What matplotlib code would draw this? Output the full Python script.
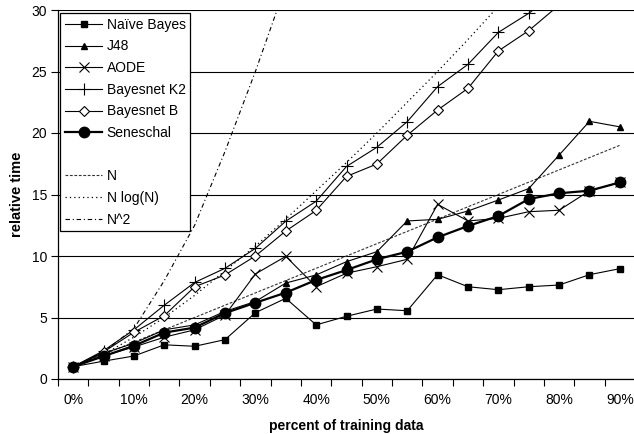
import matplotlib
matplotlib.use("Agg")
import matplotlib.pyplot as plt
from matplotlib.lines import Line2D

plt.rcParams['font.family'] = ['Liberation Sans', 'DejaVu Sans']

categories = ['0%', '5%', '10%', '15%', '20%', '25%', '30%', '35%', '40%', '45%',
              '50%', '55%', '60%', '65%', '70%', '75%', '80%', '85%', '90%']

naive_bayes = [1.0, 1.45, 1.87, 2.78, 2.66, 3.2, 5.39, 6.56, 4.4, 5.1,
               5.69, 5.55, 8.48, 7.5, 7.26, 7.5, 7.64, 8.48, 8.97]
j48 = [1.0, 2.1, 2.9, 4.0, 4.4, 5.5, 6.3, 7.8, 8.46, 9.54,
       10.35, 12.85, 12.98, 13.66, 14.55, 15.48, 18.2, 20.95, 20.5]
aode = [1.0, 1.9, 2.6, 3.4, 4.0, 5.2, 8.54, 9.97, 7.5, 8.6,
        9.13, 9.73, 14.2, 12.85, 13.06, 13.6, 13.72, 15.3, 16.0]
bayesnet_k2 = [1.0, 2.3, 4.0, 6.0, 7.85, 9.0, 10.62, 12.83, 14.45, 17.28,
               18.84, 20.92, 23.77, 25.58, 28.18, 29.73, 31.6, 33.5, 35.5]
bayesnet_b = [1.0, 2.2, 3.8, 5.15, 7.5, 8.46, 10.0, 12.03, 13.7, 16.47,
              17.48, 19.82, 21.87, 23.63, 26.67, 28.32, 30.4, 32.5, 34.5]
seneschal = [1.0, 1.85, 2.7, 3.77, 4.18, 5.36, 6.2, 7.02, 8.05, 8.86,
             9.73, 10.35, 11.52, 12.44, 13.25, 14.63, 15.1, 15.31, 15.98]

ref_n = [1, 2, 3, 4, 5, 6, 7, 8, 9, 10, 11, 12, 13, 14, 15, 16, 17, 18, 19]
ref_nlogn = [1.0, 2.0, 3.4, 5.0, 6.8, 8.8, 10.8, 13.0, 15.3, 17.6,
             20.0, 22.5, 25.0, 27.6, 30.3, 33.0, 35.7, 38.5, 41.3]
ref_n2 = [1.0, 2.2, 4.1, 8.0, 12.5, 18.5, 25.0, 32.0, 40.5]

yticks = [0, 5, 10, 15, 20, 25, 30]

fig = plt.figure(figsize=(6.34, 4.34), dpi=100)
ax = fig.add_axes([58 / 634, 1 - 379 / 434, 577 / 634, 369 / 434])

x = list(range(len(categories)))

ax.plot(x[:len(naive_bayes)], naive_bayes, color='black', lw=0.8, marker='s', ms=4.5,
        label='Naïve Bayes', zorder=3)
ax.plot(x, j48, color='black', lw=0.8, marker='^', ms=5, label='J48', zorder=3)
ax.plot(x, aode, color='black', lw=0.8, marker='x', ms=7, mew=0.8, label='AODE', zorder=3)
ax.plot(x, bayesnet_k2, color='black', lw=0.8, marker='+', ms=8, mew=0.8,
        label='Bayesnet K2', zorder=3)
ax.plot(x, bayesnet_b, color='black', lw=0.8, marker='D', ms=5, mfc='white', mew=0.8,
        label='Bayesnet B', zorder=3)
ax.plot(x, seneschal, color='black', lw=1.6, marker='o', ms=7.5, label='Seneschal', zorder=4)
blank = Line2D([], [], color='none', label=' ')
ax.plot(x[:len(ref_n)], ref_n, color='#333333', lw=0.8, ls=(0, (2.5, 1.5)), label='N', zorder=2)
ax.plot(x[:len(ref_nlogn)], ref_nlogn, color='black', lw=0.9, ls=(0, (1, 2.5)),
        label='N log(N)', zorder=2)
ax.plot(x[:len(ref_n2)], ref_n2, color='black', lw=0.8, ls=(0, (4, 2.5, 1, 2.5)),
        label='N^2', zorder=2)

ax.set_xlim(-0.5, len(categories) - 0.5)
ax.set_ylim(0, 30)
ax.set_yticks(yticks)
ax.set_yticklabels([str(v) for v in yticks], fontsize=10)
ax.yaxis.grid(True, color='black', lw=0.8)
ax.set_axisbelow(True)

ax.set_xticks(x)
ax.set_xticklabels([c if i % 2 == 0 else '' for i, c in enumerate(categories)], fontsize=10)
ax.tick_params(axis='x', length=0, pad=10)
ax.set_xticks([i - 0.5 for i in range(len(categories) + 1)], minor=True)
ax.tick_params(axis='x', which='minor', length=5, width=0.8, direction='out')
ax.tick_params(axis='y', length=5, width=0.8, direction='out', pad=3)

for s in ['top', 'right']:
    ax.spines[s].set_visible(False)
for s in ['left', 'bottom']:
    ax.spines[s].set_linewidth(0.9)

ax.set_xlabel('percent of training data', fontsize=10, fontweight='bold', labelpad=9)
ax.set_ylabel('relative time', fontsize=10.5, fontweight='bold', labelpad=5)

handles, labels = ax.get_legend_handles_labels()
order = handles[:6] + [blank] + handles[6:]
leg = fig.legend(handles=order, loc='upper left',
                 bbox_to_anchor=(60 / 634, 1 - 13 / 434), bbox_transform=fig.transFigure,
                 fontsize=10, frameon=True, fancybox=False, framealpha=1,
                 edgecolor='black', handlelength=2.7, handletextpad=0.3,
                 labelspacing=0.55, borderpad=0.35, borderaxespad=0)
leg.get_frame().set_linewidth(0.9)

fig.savefig('out.png', dpi=100)
